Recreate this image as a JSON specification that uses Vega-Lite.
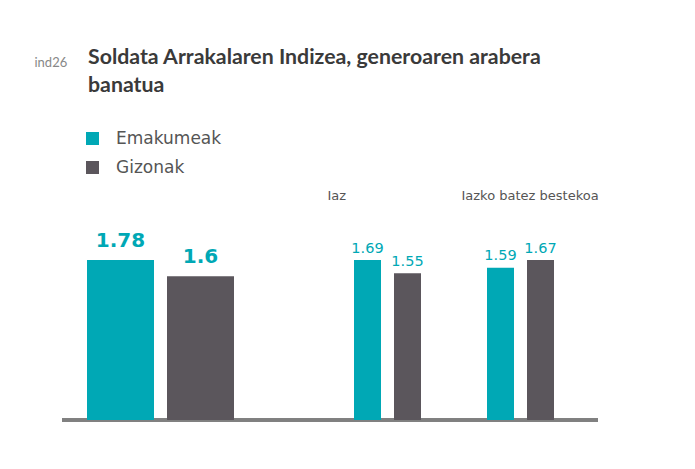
{
  "$schema": "https://vega.github.io/schema/vega-lite/v6.json",
  "width": 536,
  "height": 160,
  "autosize": {"type": "none"},
  "padding": {"left": 62, "top": 260, "right": 97, "bottom": 49},
  "background": "#ffffff",
  "config": {"view": {"stroke": null}},
  "title": {
    "text": ["Soldata Arrakalaren Indizea, generoaren arabera", "banatua"],
    "anchor": "start",
    "frame": "group",
    "dx": 26,
    "baseline": "alphabetic",
    "offset": -57,
    "font": "Lato",
    "fontSize": 21.3,
    "fontWeight": "bold",
    "color": "#3a3a3a",
    "lineHeight": 28
  },
  "data": {
    "values": [
      {"taldea": "Aurten", "sexua": "Emakumeak", "balioa": 1.78},
      {"taldea": "Aurten", "sexua": "Gizonak", "balioa": 1.6},
      {"taldea": "Iaz", "sexua": "Emakumeak", "balioa": 1.69},
      {"taldea": "Iaz", "sexua": "Gizonak", "balioa": 1.55},
      {"taldea": "Iazko batez bestekoa", "sexua": "Emakumeak", "balioa": 1.59},
      {"taldea": "Iazko batez bestekoa", "sexua": "Gizonak", "balioa": 1.67}
    ]
  },
  "layer": [
    {
      "mark": {"type": "rule", "color": "#808080", "strokeWidth": 3},
      "encoding": {
        "y": {"datum": 0, "type": "quantitative", "scale": {"domain": [0, 1]}, "axis": null}
      }
    },
    {
      "transform": [{"filter": {"field": "taldea", "equal": "Aurten"}}],
      "encoding": {
        "x": {
          "field": "sexua", "type": "nominal", "sort": ["Emakumeak", "Gizonak"],
          "scale": {"range": [25, 172], "paddingInner": 0.1625, "paddingOuter": 0, "round": false},
          "axis": null
        },
        "y": {
          "field": "balioa", "type": "quantitative",
          "scale": {"zero": true, "nice": false},
          "axis": {"orient": "left", "values": [0], "title": "ind26", "titleAngle": 0, "titleX": -28, "titleY": -194, "titleAlign": "left", "titleBaseline": "alphabetic", "titleFont": "Lato", "titleFontSize": 13, "titleFontWeight": "normal", "titleColor": "#888888", "labels": false, "ticks": false, "domain": false, "grid": false}
        }
      },
      "layer": [
        {
          "mark": {"type": "bar"},
          "encoding": {
            "color": {
              "field": "sexua", "type": "nominal",
              "scale": {"domain": ["Emakumeak", "Gizonak"], "range": ["#00a8b5", "#5b565c"]},
              "legend": {"title": null, "orient": "none", "legendX": 22, "legendY": -130, "direction": "vertical", "symbolType": "square", "symbolSize": 169, "symbolStrokeWidth": 0, "labelFont": "DejaVu Sans", "labelFontSize": 17, "labelColor": "#555555", "rowPadding": 11, "labelOffset": 15, "padding": 0, "symbolOffset": 0, "labelLimit": 300}
            }
          }
        },
        {
          "mark": {"type": "text", "font": "DejaVu Sans", "fontSize": 20, "fontWeight": "bold", "color": "#00a8b5", "baseline": "alphabetic", "dy": -13},
          "encoding": {"text": {"field": "balioa", "type": "quantitative"}}
        }
      ]
    },
    {
      "transform": [{"filter": {"field": "taldea", "equal": "Iaz"}}],
      "encoding": {
        "x": {
          "field": "sexua", "type": "nominal", "sort": ["Emakumeak", "Gizonak"],
          "scale": {"range": [292, 359], "paddingInner": 0.325, "paddingOuter": 0, "round": false},
          "axis": {"orient": "top", "title": "Iaz", "titleX": 265, "titleY": -60.5, "titleAlign": "left", "titleBaseline": "alphabetic", "titleFont": "DejaVu Sans", "titleFontSize": 13, "titleFontWeight": "normal", "titleColor": "#555555", "labels": false, "ticks": false, "domain": false, "grid": false}
        },
        "y": {
          "field": "balioa", "type": "quantitative",
          "scale": {"zero": true, "nice": false},
          "axis": null
        }
      },
      "layer": [
        {
          "mark": {"type": "bar"},
          "encoding": {
            "color": {
              "field": "sexua", "type": "nominal",
              "scale": {"domain": ["Emakumeak", "Gizonak"], "range": ["#00a8b5", "#5b565c"]},
              "legend": {"title": null, "orient": "none", "legendX": 22, "legendY": -130, "direction": "vertical", "symbolType": "square", "symbolSize": 169, "symbolStrokeWidth": 0, "labelFont": "DejaVu Sans", "labelFontSize": 17, "labelColor": "#555555", "rowPadding": 11, "labelOffset": 15, "padding": 0, "symbolOffset": 0, "labelLimit": 300}
            }
          }
        },
        {
          "mark": {"type": "text", "font": "DejaVu Sans", "fontSize": 14.5, "fontWeight": "normal", "color": "#00a8b5", "baseline": "alphabetic", "dy": -7.5},
          "encoding": {"text": {"field": "balioa", "type": "quantitative"}}
        }
      ]
    },
    {
      "transform": [{"filter": {"field": "taldea", "equal": "Iazko batez bestekoa"}}],
      "encoding": {
        "x": {
          "field": "sexua", "type": "nominal", "sort": ["Emakumeak", "Gizonak"],
          "scale": {"range": [425, 492], "paddingInner": 0.325, "paddingOuter": 0, "round": false},
          "axis": {"orient": "top", "title": "Iazko batez bestekoa", "titleX": 399, "titleY": -60.5, "titleAlign": "left", "titleBaseline": "alphabetic", "titleFont": "DejaVu Sans", "titleFontSize": 13, "titleFontWeight": "normal", "titleColor": "#555555", "labels": false, "ticks": false, "domain": false, "grid": false}
        },
        "y": {
          "field": "balioa", "type": "quantitative",
          "scale": {"zero": true, "nice": false},
          "axis": null
        }
      },
      "layer": [
        {
          "mark": {"type": "bar"},
          "encoding": {
            "color": {
              "field": "sexua", "type": "nominal",
              "scale": {"domain": ["Emakumeak", "Gizonak"], "range": ["#00a8b5", "#5b565c"]},
              "legend": {"title": null, "orient": "none", "legendX": 22, "legendY": -130, "direction": "vertical", "symbolType": "square", "symbolSize": 169, "symbolStrokeWidth": 0, "labelFont": "DejaVu Sans", "labelFontSize": 17, "labelColor": "#555555", "rowPadding": 11, "labelOffset": 15, "padding": 0, "symbolOffset": 0, "labelLimit": 300}
            }
          }
        },
        {
          "mark": {"type": "text", "font": "DejaVu Sans", "fontSize": 14.5, "fontWeight": "normal", "color": "#00a8b5", "baseline": "alphabetic", "dy": -7.5},
          "encoding": {"text": {"field": "balioa", "type": "quantitative"}}
        }
      ]
    }
  ],
  "resolve": {
    "scale": {"x": "independent", "y": "independent", "color": "shared"},
    "axis": {"x": "independent", "y": "independent"}
  }
}
